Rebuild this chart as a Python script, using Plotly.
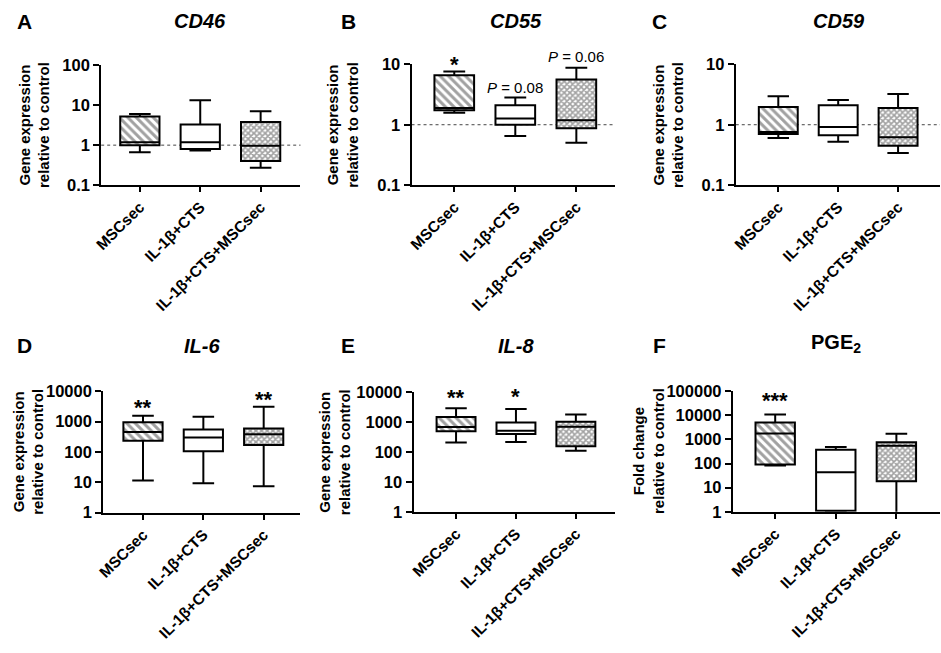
import math
import plotly.graph_objects as go

W, H = 941, 653

categories = ["MSCsec", "IL-1β+CTS", "IL-1β+CTS+MSCsec"]

# Box statistics per group: lower whisker, Q1, median, Q3, upper whisker
cd46_low = [0.66, 0.73, 0.27]
cd46_q1 = [1.0, 0.80, 0.40]
cd46_med = [1.18, 1.18, 0.97]
cd46_q3 = [5.2, 3.3, 3.8]
cd46_high = [6.0, 13.4, 7.1]

cd55_low = [1.58, 0.65, 0.50]
cd55_q1 = [1.73, 1.0, 0.87]
cd55_med = [1.9, 1.27, 1.19]
cd55_q3 = [6.6, 2.1, 5.6]
cd55_high = [7.6, 2.83, 8.8]

cd59_low = [0.60, 0.52, 0.34]
cd59_q1 = [0.70, 0.67, 0.45]
cd59_med = [0.76, 0.92, 0.62]
cd59_q3 = [1.97, 2.1, 1.9]
cd59_high = [2.97, 2.56, 3.24]

il6_low = [11.5, 9.3, 7.4]
il6_q1 = [235, 105, 170]
il6_med = [450, 300, 380]
il6_q3 = [950, 550, 590]
il6_high = [1550, 1450, 3100]

il8_low = [205, 215, 110]
il8_q1 = [490, 400, 155]
il8_med = [680, 510, 700]
il8_q3 = [1480, 970, 1020]
il8_high = [2900, 2750, 1800]

pge2_low = [83, 1.0, 0.5]
pge2_q1 = [91, 1.1, 18.6]
pge2_med = [1740, 43, 540]
pge2_q3 = [5000, 370, 760]
pge2_high = [10700, 480, 1700]

panel_letters = ["A", "B", "C", "D", "E", "F"]
panel_titles = ["<i>CD46</i>", "<i>CD55</i>", "<i>CD59</i>", "<i>IL-6</i>", "<i>IL-8</i>", "PGE<sub>2</sub>"]
y_titles = ["Gene expression<br>relative to control"] * 5 + ["Fold change<br>relative to control"]

ticks_a = [0.1, 1, 10, 100]
ticks_bc = [0.1, 1, 10]
ticks_de = [1, 10, 100, 1000, 10000]
ticks_f = [1, 10, 100, 1000, 10000, 100000]

# significance labels: (panel index, group index, text, y value on the panel's scale)
sig_panels = [1, 1, 1, 3, 3, 4, 4, 5]
sig_groups = [0, 1, 2, 0, 2, 0, 1, 0]
sig_texts = ["*", "<i>P</i> = 0.08", "<i>P</i> = 0.06", "**", "**", "**", "*", "***"]
sig_y = [10.0, 4.1, 13.5, 3000, 5200, 6800, 7300, 42000]

stats = [
    (cd46_low, cd46_q1, cd46_med, cd46_q3, cd46_high),
    (cd55_low, cd55_q1, cd55_med, cd55_q3, cd55_high),
    (cd59_low, cd59_q1, cd59_med, cd59_q3, cd59_high),
    (il6_low, il6_q1, il6_med, il6_q3, il6_high),
    (il8_low, il8_q1, il8_med, il8_q3, il8_high),
    (pge2_low, pge2_q1, pge2_med, pge2_q3, pge2_high),
]
tick_sets = [ticks_a, ticks_bc, ticks_bc, ticks_de, ticks_de, ticks_f]
ref_line = [True, True, True, False, False, False]

# layout geometry (pixels)
x_dom_px = [(94, 295), (407, 612), (734, 940), (96, 295), (409, 612), (731, 940)]
y_dom_px = [(181, 58), (181, 57), (181, 57), (518, 393), (517, 394), (517, 393)]
x_ranges = [(-0.64, 2.66), (-0.70, 2.63), (-0.71, 2.70), (-0.66, 2.61), (-0.71, 2.65), (-0.70, 2.72)]
letter_px = [(17, 13), (343, 13), (657, 13), (17, 346), (343, 346), (657, 346)]
title_px = [(194, 12), (512, 12), (838, 12), (196, 347), (512, 347), (835, 344)]
ytitle_x_px = [26, 338, 666, 21, 330, 646]

FONT = "Arial, Liberation Sans, Helvetica, sans-serif"
pat_shape = ["\\", "", "x"]
pat_fg = ["black", "black", "black"]
pat_bg = ["white", "white", "white"]
pat_size = [6, 6, 4]
pat_sol = [0.5, 0.2, 0.65]

fig = go.Figure()
annotations = []
shapes = []
ydoms = []
yranges = []

for i in range(6):
    low, q1, med, q3, high = stats[i]
    xa = "x" if i == 0 else f"x{i+1}"
    ya = "y" if i == 0 else f"y{i+1}"
    fig.add_trace(go.Bar(
        x=categories, y=[b - a for a, b in zip(q1, q3)], base=q1,
        width=0.65, xaxis=xa, yaxis=ya, showlegend=False,
        marker=dict(color=pat_bg, line=dict(width=0),
                    pattern=dict(shape=pat_shape, fgcolor=pat_fg, bgcolor=pat_bg,
                                 size=pat_size, solidity=pat_sol, fillmode="overlay")),
        hoverinfo="skip",
    ))
    fig.add_trace(go.Box(
        x=categories, q1=q1, median=med, q3=q3, lowerfence=low, upperfence=high,
        xaxis=xa, yaxis=ya, showlegend=False, width=0.65, whiskerwidth=0.55,
        fillcolor="rgba(0,0,0,0)", line=dict(color="black", width=2),
        boxpoints=False,
    ))
    xd = [x_dom_px[i][0] / W, x_dom_px[i][1] / W]
    yd = [1 - y_dom_px[i][0] / H, 1 - y_dom_px[i][1] / H]
    tv = tick_sets[i]
    yr = [math.log10(tv[0]), math.log10(tv[-1])]
    ydoms.append(yd)
    yranges.append(yr)
    xkey = "xaxis" if i == 0 else f"xaxis{i+1}"
    ykey = "yaxis" if i == 0 else f"yaxis{i+1}"
    fig.update_layout(**{
        xkey: dict(domain=xd, anchor=ya, type="category", range=list(x_ranges[i]),
                   showline=True, linewidth=2, linecolor="black", ticks="outside",
                   ticklen=5, tickwidth=1.5, tickcolor="black", tickangle=-45,
                   tickfont=dict(family=FONT, size=15.5, color="black", weight="bold"),
                   showgrid=False, zeroline=False, fixedrange=True),
        ykey: dict(domain=yd, anchor=xa, type="log", range=yr,
                   tickvals=tv, ticktext=[str(t) for t in tv],
                   showline=True, linewidth=2, linecolor="black", ticks="outside",
                   ticklen=6, tickwidth=1.5, tickcolor="black",
                   tickfont=dict(family=FONT, size=16.5, color="black", weight="bold"),
                   showgrid=False, zeroline=False, fixedrange=True),
    })
    if ref_line[i]:
        shapes.append(dict(type="line", xref=f"{xa} domain", yref=ya, x0=0, x1=1, y0=1, y1=1,
                           line=dict(color="#444", width=1, dash="dot"), layer="below"))
    annotations.append(dict(text=f"<b>{panel_letters[i]}</b>", xref="paper", yref="paper",
                            x=letter_px[i][0] / W, y=1 - letter_px[i][1] / H,
                            xanchor="center", yanchor="middle", showarrow=False,
                            font=dict(family=FONT, size=21, color="black")))
    annotations.append(dict(text=f"<b>{panel_titles[i]}</b>", xref="paper", yref="paper",
                            x=title_px[i][0] / W, y=1 - title_px[i][1] / H,
                            xanchor="center", yanchor="middle", showarrow=False,
                            font=dict(family=FONT, size=20, color="black")))
    ymid = 1 - (y_dom_px[i][0] + y_dom_px[i][1]) / 2 / H
    annotations.append(dict(text=f"<b>{y_titles[i]}</b>", xref="paper", yref="paper",
                            x=ytitle_x_px[i] / W, y=ymid, textangle=-90,
                            xanchor="center", yanchor="middle", showarrow=False,
                            font=dict(family=FONT, size=15, color="black")))


def to_paper_y(panel, value):
    yd = ydoms[panel]
    lo, hi = yranges[panel]
    frac = (math.log10(value) - lo) / (hi - lo)
    return yd[0] + frac * (yd[1] - yd[0])


for p, g, t, yv in zip(sig_panels, sig_groups, sig_texts, sig_y):
    xa = "x" if p == 0 else f"x{p+1}"
    is_star = t.startswith("*")
    annotations.append(dict(text=(f"<b>{t}</b>" if is_star else t), xref=xa, yref="paper",
                            x=categories[g], y=to_paper_y(p, yv), xanchor="center",
                            yanchor="middle", showarrow=False,
                            font=dict(family=FONT, size=(22 if is_star else 15), color="black")))

fig.update_layout(width=W, height=H, margin=dict(l=0, r=0, t=0, b=0),
                  paper_bgcolor="white", plot_bgcolor="white", barmode="overlay",
                  annotations=annotations, shapes=shapes, showlegend=False)

fig.write_html(
    "out.html",
    config={"displayModeBar": False},
    post_script="document.body.style.margin='0';document.body.style.padding='0';"
                "document.documentElement.style.overflow='hidden';",
)
